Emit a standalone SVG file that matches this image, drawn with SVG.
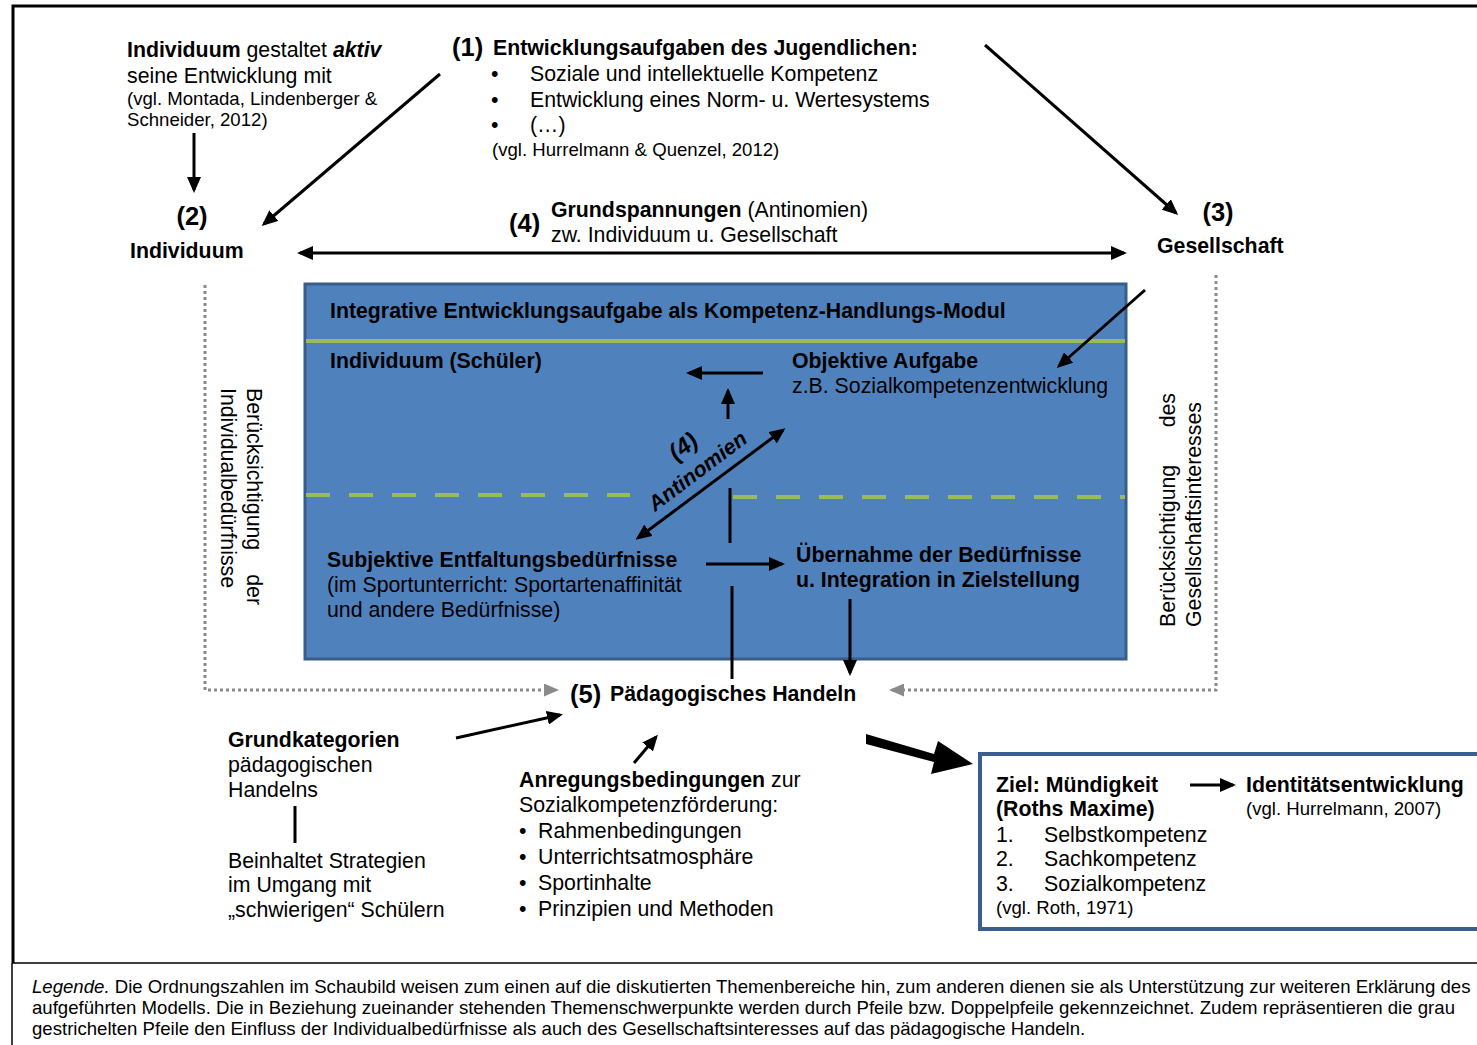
<svg xmlns="http://www.w3.org/2000/svg" width="1477" height="1045" viewBox="0 0 1477 1045">
<style>
text{font-family:"Liberation Sans",Arial,sans-serif;font-size:21.3px;fill:#000}
.b{font-weight:bold}
.bi{font-weight:bold;font-style:italic}
.i{font-style:italic}
.n{font-size:25.5px;font-weight:bold}
.c{font-size:18.6px}
.lg{font-size:18.6px}
.ln{stroke:#000;stroke-width:3;fill:none}
.ar{stroke:#000;stroke-width:3;fill:none;marker-end:url(#ah)}
.dar{stroke:#000;stroke-width:3;fill:none;marker-start:url(#ah);marker-end:url(#ah)}
.dot{stroke:#8a8a8a;stroke-width:3;fill:none;stroke-dasharray:3 3}
</style>
<defs>
<marker id="ah" markerUnits="userSpaceOnUse" markerWidth="16" markerHeight="14" viewBox="0 0 16 14" refX="13" refY="7" orient="auto-start-reverse"><path d="M0,0 L16,7 L0,14 z" fill="#000"/></marker>
<marker id="ga" markerUnits="userSpaceOnUse" markerWidth="15" markerHeight="13" viewBox="0 0 15 13" refX="12" refY="6.5" orient="auto"><path d="M0,0 L15,6.5 L0,13 z" fill="#8a8a8a"/></marker>
</defs>
<rect width="1477" height="1045" fill="#fff"/>
<g id="frame">
<path d="M13,963 L13,6 L1477,6" stroke="#000" stroke-width="3" fill="none"/>
<path d="M12,963 L1477,963 M12,963 L12,1045" stroke="#000" stroke-width="1.5" fill="none"/>
</g>
<g id="node-blue-box">
<rect x="305" y="284" width="821" height="375" fill="#4F81BD" stroke="#385D8A" stroke-width="3"/>
<line x1="306" y1="341" x2="1125" y2="341" stroke="#9BBB59" stroke-width="4"/>
<line x1="306" y1="495" x2="630" y2="495" stroke="#9BBB59" stroke-width="4" stroke-dasharray="24 19"/>
<line x1="733" y1="497" x2="1125" y2="497" stroke="#9BBB59" stroke-width="4" stroke-dasharray="24 19"/>
<text x="330" y="318" class="b">Integrative Entwicklungsaufgabe als Kompetenz-Handlungs-Modul</text>
</g>
<g id="node-individuum-schueler"><text x="330" y="368" class="b">Individuum (Schüler)</text></g>
<g id="node-objektive-aufgabe">
<text x="792" y="368" class="b">Objektive Aufgabe</text>
<text x="792" y="393">z.B. Sozialkompetenzentwicklung</text>
</g>
<g id="node-subjektive">
<text x="327" y="567" class="b">Subjektive Entfaltungsbedürfnisse</text>
<text x="327" y="592">(im Sportunterricht: Sportartenaffinität</text>
<text x="327" y="617">und andere Bedürfnisse)</text>
</g>
<g id="node-uebernahme">
<text x="796" y="562" class="b">Übernahme der Bedürfnisse</text>
<text x="796" y="587" class="b">u. Integration in Zielstellung</text>
</g>
<g id="node-antinomien-label">
<text class="bi" text-anchor="middle" transform="translate(688,453) rotate(-37)" style="font-size:24px">(4)</text>
<text class="bi" transform="translate(655,512) rotate(-37)">Antinomien</text>
</g>
<g id="node-aktiv">
<text x="127" y="57"><tspan class="b">Individuum</tspan> gestaltet <tspan class="bi">aktiv</tspan></text>
<text x="127" y="83">seine Entwicklung mit</text>
<text x="127" y="105" class="c">(vgl. Montada, Lindenberger &amp;</text>
<text x="127" y="126" class="c">Schneider, 2012)</text>
</g>
<g id="node-individuum">
<text x="192" y="225" class="n" text-anchor="middle">(2)</text>
<text x="130" y="258" class="b">Individuum</text>
</g>
<g id="node-entwicklungsaufgaben">
<text x="452" y="56" class="n">(1)</text>
<text x="493" y="55" class="b">Entwicklungsaufgaben des Jugendlichen:</text>
<text x="491" y="81">•</text><text x="530" y="81">Soziale und intellektuelle Kompetenz</text>
<text x="491" y="107">•</text><text x="530" y="107">Entwicklung eines Norm- u. Wertesystems</text>
<text x="491" y="132">•</text><text x="530" y="132">(…)</text>
<text x="492" y="156" class="c">(vgl. Hurrelmann &amp; Quenzel, 2012)</text>
</g>
<g id="node-gesellschaft">
<text x="1218" y="221" class="n" text-anchor="middle">(3)</text>
<text x="1157" y="253" class="b">Gesellschaft</text>
</g>
<g id="node-grundspannungen">
<text x="509" y="232" class="n">(4)</text>
<text x="551" y="217"><tspan class="b">Grundspannungen</tspan> (Antinomien)</text>
<text x="551" y="242">zw. Individuum u. Gesellschaft</text>
</g>
<g id="node-side-left">
<text transform="translate(246.5,388) rotate(90)">Berücksichtigung</text>
<text transform="translate(246.5,388) rotate(90)" x="217" text-anchor="end">der</text>
<text transform="translate(221,388) rotate(90)">Individualbedürfnisse</text>
</g>
<g id="node-side-right">
<text transform="translate(1175,627) rotate(-90)">Berücksichtigung</text>
<text transform="translate(1175,627) rotate(-90)" x="234" text-anchor="end">des</text>
<text transform="translate(1201,627) rotate(-90)">Gesellschaftsinteresses</text>
</g>
<g id="node-paedagogisches-handeln">
<text x="570" y="703" class="n">(5)</text>
<text x="610" y="701" class="b">Pädagogisches Handeln</text>
</g>
<g id="node-grundkategorien">
<text x="228" y="747" class="b">Grundkategorien</text>
<text x="228" y="772">pädagogischen</text>
<text x="228" y="797">Handelns</text>
<text x="228" y="868">Beinhaltet Strategien</text>
<text x="228" y="892">im Umgang mit</text>
<text x="228" y="917">„schwierigen“ Schülern</text>
</g>
<g id="node-anregung">
<text x="519" y="787"><tspan class="b">Anregungsbedingungen</tspan> zur</text>
<text x="519" y="812">Sozialkompetenzförderung:</text>
<text x="519" y="838">•</text><text x="538" y="838">Rahmenbedingungen</text>
<text x="519" y="864">•</text><text x="538" y="864">Unterrichtsatmosphäre</text>
<text x="519" y="890">•</text><text x="538" y="890">Sportinhalte</text>
<text x="519" y="916">•</text><text x="538" y="916">Prinzipien und Methoden</text>
</g>
<g id="node-ziel">
<rect x="980" y="754" width="530" height="175" fill="#fff" stroke="#3A5F8E" stroke-width="4"/>
<text x="996" y="792" class="b">Ziel: Mündigkeit</text>
<text x="996" y="816" class="b">(Roths Maxime)</text>
<text x="996" y="842">1.</text><text x="1044" y="842">Selbstkompetenz</text>
<text x="996" y="866">2.</text><text x="1044" y="866">Sachkompetenz</text>
<text x="996" y="891">3.</text><text x="1044" y="891">Sozialkompetenz</text>
<text x="996" y="914" class="c">(vgl. Roth, 1971)</text>
</g>
<g id="node-identitaet">
<text x="1246" y="792" class="b">Identitätsentwicklung</text>
<text x="1246" y="815" class="c">(vgl. Hurrelmann, 2007)</text>
</g>
<g id="legend">
<text x="32" y="993" class="lg"><tspan class="i">Legende.</tspan> Die Ordnungszahlen im Schaubild weisen zum einen auf die diskutierten Themenbereiche hin, zum anderen dienen sie als Unterstützung zur weiteren Erklärung des</text>
<text x="32" y="1014" class="lg">aufgeführten Modells. Die in Beziehung zueinander stehenden Themenschwerpunkte werden durch Pfeile bzw. Doppelpfeile gekennzeichnet. Zudem repräsentieren die grau</text>
<text x="32" y="1035" class="lg">gestrichelten Pfeile den Einfluss der Individualbedürfnisse als auch des Gesellschaftsinteresses auf das pädagogische Handeln.</text>
</g>
<g id="connectors">
<line class="ar" x1="194" y1="133" x2="194" y2="190"/>
<line class="ar" x1="440" y1="74" x2="264" y2="224"/>
<line class="ar" x1="985" y1="45" x2="1176" y2="213"/>
<line class="dar" x1="300" y1="253" x2="1124" y2="253"/>
<line class="ar" x1="1145" y1="290" x2="1059" y2="366"/>
<line class="ar" x1="763" y1="373" x2="689" y2="373"/>
<line class="ar" x1="728" y1="419" x2="728" y2="391"/>
<line class="dar" x1="638" y1="538" x2="783" y2="430"/>
<line class="ln" x1="730" y1="488" x2="730" y2="543"/>
<line class="ar" x1="706" y1="564" x2="782" y2="564"/>
<line class="ln" x1="732" y1="586" x2="732" y2="679"/>
<line class="ar" x1="850" y1="599" x2="850" y2="673"/>
<path class="dot" d="M205,285 L205,690 L556,690" marker-end="url(#ga)"/>
<path class="dot" d="M1216,275 L1216,690 L892,690" marker-end="url(#ga)"/>
<line class="ar" x1="456" y1="738" x2="560" y2="715"/>
<line class="ar" x1="634" y1="763" x2="656" y2="737"/>
<line class="ln" x1="295" y1="806" x2="295" y2="843"/>
<path d="M866,734 L934,754 L938,741 L973,764 L931,774 L934,762 L866,744 z" fill="#000"/>
<line class="ar" x1="1190" y1="785" x2="1233" y2="785"/>
</g>
</svg>
